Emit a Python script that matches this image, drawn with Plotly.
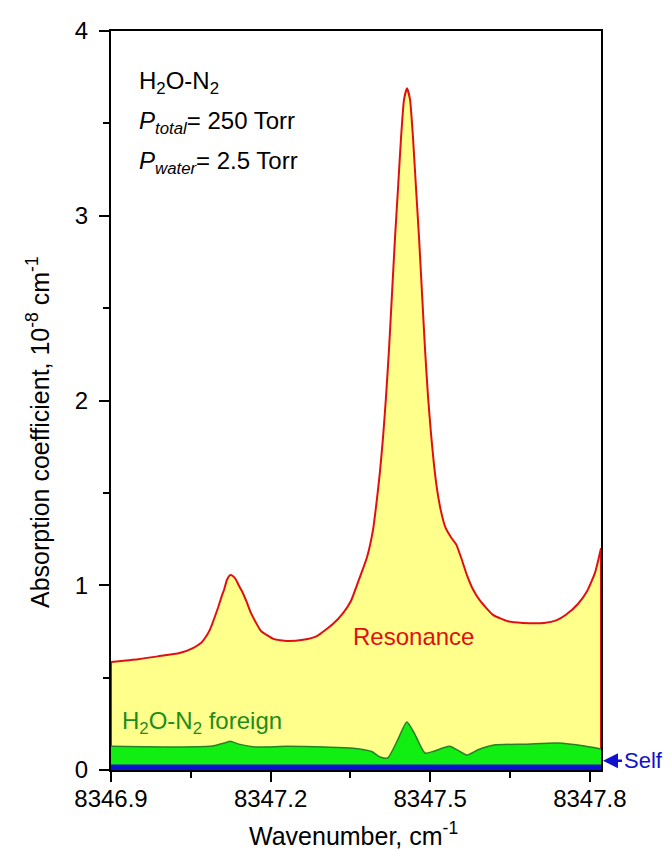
import plotly.graph_objects as go

# ---- data ----
res_wn = [8346.900, 8346.951, 8346.988, 8347.029, 8347.054, 8347.069, 8347.078, 8347.086,
          8347.094, 8347.101, 8347.108, 8347.113, 8347.118, 8347.124, 8347.129, 8347.135,
          8347.140, 8347.146, 8347.155, 8347.163, 8347.172, 8347.182, 8347.205, 8347.231,
          8347.261, 8347.287, 8347.317, 8347.335, 8347.351, 8347.366, 8347.381, 8347.3925,
          8347.4000, 8347.4057, 8347.4113, 8347.4169, 8347.4226, 8347.4282, 8347.4338,
          8347.4395, 8347.4451, 8347.4508, 8347.4564, 8347.4620, 8347.4677, 8347.4733,
          8347.4790, 8347.4846, 8347.4902, 8347.4959, 8347.5015, 8347.5072, 8347.5128,
          8347.5203, 8347.529, 8347.539, 8347.549, 8347.558, 8347.569, 8347.580, 8347.594,
          8347.618, 8347.646, 8347.674, 8347.714, 8347.737, 8347.755, 8347.778, 8347.795,
          8347.810, 8347.821]
res_val = [0.585, 0.600, 0.615, 0.633, 0.660, 0.687, 0.720, 0.760,
           0.820, 0.877, 0.940, 0.980, 1.030, 1.055, 1.050, 1.030,
           1.000, 0.969, 0.910, 0.850, 0.800, 0.752, 0.710, 0.698,
           0.705, 0.725, 0.790, 0.845, 0.915, 1.030, 1.150, 1.300,
           1.470, 1.620, 1.800, 2.020, 2.280, 2.580, 2.880,
           3.150, 3.420, 3.630, 3.690, 3.630, 3.420, 3.150,
           2.880, 2.580, 2.280, 2.020, 1.820, 1.650, 1.520,
           1.400, 1.310, 1.260, 1.220, 1.150, 1.055, 0.980, 0.915,
           0.840, 0.805, 0.796, 0.796, 0.810, 0.840, 0.900, 0.969,
           1.070, 1.200]

for_wn = [8346.900, 8346.960, 8347.030, 8347.090, 8347.115, 8347.124, 8347.140, 8347.170,
          8347.230, 8347.300, 8347.350, 8347.390, 8347.406, 8347.420, 8347.440, 8347.456,
          8347.470, 8347.490, 8347.505, 8347.525, 8347.537, 8347.550, 8347.569, 8347.590,
          8347.620, 8347.680, 8347.740, 8347.790, 8347.821]
for_val = [0.128, 0.126, 0.125, 0.130, 0.148, 0.155, 0.140, 0.125,
           0.128, 0.125, 0.119, 0.100, 0.070, 0.065, 0.170, 0.260,
           0.200, 0.092, 0.100, 0.120, 0.128, 0.110, 0.081, 0.110,
           0.135, 0.140, 0.146, 0.130, 0.114]

self_wn = [8346.900, 8347.821]
self_val = [0.027, 0.027]

x_ticks = [8346.9, 8347.2, 8347.5, 8347.8]
x_ticklabels = ["8346.9", "8347.2", "8347.5", "8347.8"]
y_ticks = [0, 1, 2, 3, 4]

XMIN, XMAX = 8346.9, 8347.821

fig = go.Figure()

fig.add_trace(go.Scatter(
    x=res_wn, y=res_val,
    mode="lines", fill="tozeroy", fillcolor="#FFFF8C",
    line=dict(color="#E01010", width=2, shape="spline", smoothing=0.5),
    hoverinfo="skip", showlegend=False))

# red vertical edges of the resonance area
fig.add_trace(go.Scatter(
    x=[res_wn[0], res_wn[0]], y=[0, res_val[0]], mode="lines",
    line=dict(color="#E01010", width=2), hoverinfo="skip", showlegend=False))
fig.add_trace(go.Scatter(
    x=[res_wn[-1], res_wn[-1]], y=[0, res_val[-1]], mode="lines",
    line=dict(color="#E01010", width=2), hoverinfo="skip", showlegend=False))

fig.add_trace(go.Scatter(
    x=for_wn, y=for_val, mode="lines", fill="tozeroy", fillcolor="#11EE11",
    line=dict(color="#2A7F2A", width=1.5, shape="spline", smoothing=0.6),
    hoverinfo="skip", showlegend=False))

fig.add_trace(go.Scatter(
    x=self_wn, y=self_val, mode="lines", fill="tozeroy", fillcolor="#0A10D0",
    line=dict(color="#0A10D0", width=1), hoverinfo="skip", showlegend=False))

font_family = "Liberation Sans, Arial, sans-serif"

fig.update_layout(
    width=671, height=851,
    margin=dict(l=103, r=78, t=23, b=89),
    paper_bgcolor="white", plot_bgcolor="white",
    font=dict(family=font_family, size=24, color="black"),
    xaxis=dict(range=[XMIN, XMAX], tickvals=x_ticks, ticktext=x_ticklabels,
               ticks="outside", ticklen=10, tickwidth=2, tickcolor="black",
               showline=True, linecolor="black", linewidth=2, mirror=True,
               showgrid=False, zeroline=False, automargin=False,
               ticklabelstandoff=-4,
               minor=dict(tickvals=[8347.05, 8347.35, 8347.65], ticks="outside",
                          ticklen=6, tickwidth=2, tickcolor="black"),
               tickfont=dict(size=24)),
    yaxis=dict(range=[0, 4], tickvals=y_ticks,
               ticks="outside", ticklen=10, tickwidth=2, tickcolor="black",
               showline=True, linecolor="black", linewidth=2, mirror=True,
               showgrid=False, zeroline=False, automargin=False,
               ticklabelstandoff=6,
               minor=dict(tickvals=[0.5, 1.5, 2.5, 3.5], ticks="outside",
                          ticklen=6, tickwidth=2, tickcolor="black"),
               tickfont=dict(size=24)),
)

def px_x(px):
    return (px - 103) / 490.0

def px_y(py):
    return (762 - py) / 739.0

ann = []
ann.append(dict(text="Wavenumber, cm<sup>-1</sup>", xref="paper", yref="paper",
                x=px_x(345), y=px_y(844), showarrow=False, font=dict(size=25),
                xanchor="center", yanchor="bottom"))
ann.append(dict(text="Absorption coefficient, 10<sup>-8</sup> cm<sup>-1</sup>",
                xref="paper", yref="paper", x=px_x(30), y=px_y(424), textangle=-90,
                showarrow=False, font=dict(size=25), xanchor="center", yanchor="middle"))
ann.append(dict(text="H<sub>2</sub>O-N<sub>2</sub>", xref="paper", yref="paper",
                x=px_x(129), y=px_y(75), showarrow=False, font=dict(size=24),
                xanchor="left", yanchor="middle"))
ann.append(dict(text="<i>P</i><sub><i>total</i></sub>= 250 Torr", xref="paper", yref="paper",
                x=px_x(129), y=px_y(114), showarrow=False, font=dict(size=24),
                xanchor="left", yanchor="middle"))
ann.append(dict(text="<i>P</i><sub><i>water</i></sub>= 2.5 Torr", xref="paper", yref="paper",
                x=px_x(129), y=px_y(154), showarrow=False, font=dict(size=24),
                xanchor="left", yanchor="middle"))
ann.append(dict(text="Resonance", xref="paper", yref="paper",
                x=px_x(405), y=px_y(628), showarrow=False,
                font=dict(size=24, color="#E01010"), xanchor="center", yanchor="middle"))
ann.append(dict(text="H<sub>2</sub>O-N<sub>2</sub> foreign", xref="paper", yref="paper",
                x=px_x(112), y=px_y(714), showarrow=False,
                font=dict(size=24, color="#1E8C1E"), xanchor="left", yanchor="middle"))
ann.append(dict(text="Self", xref="x", yref="y", x=XMAX, y=0.05,
                showarrow=True, arrowhead=2, arrowsize=1.2, arrowwidth=2.5,
                arrowcolor="#1010D0", ax=42, ay=0, standoff=2,
                font=dict(size=22, color="#1010D0"), xanchor="center", yanchor="middle"))
fig.update_layout(annotations=ann)

fig.write_html("out.html")
